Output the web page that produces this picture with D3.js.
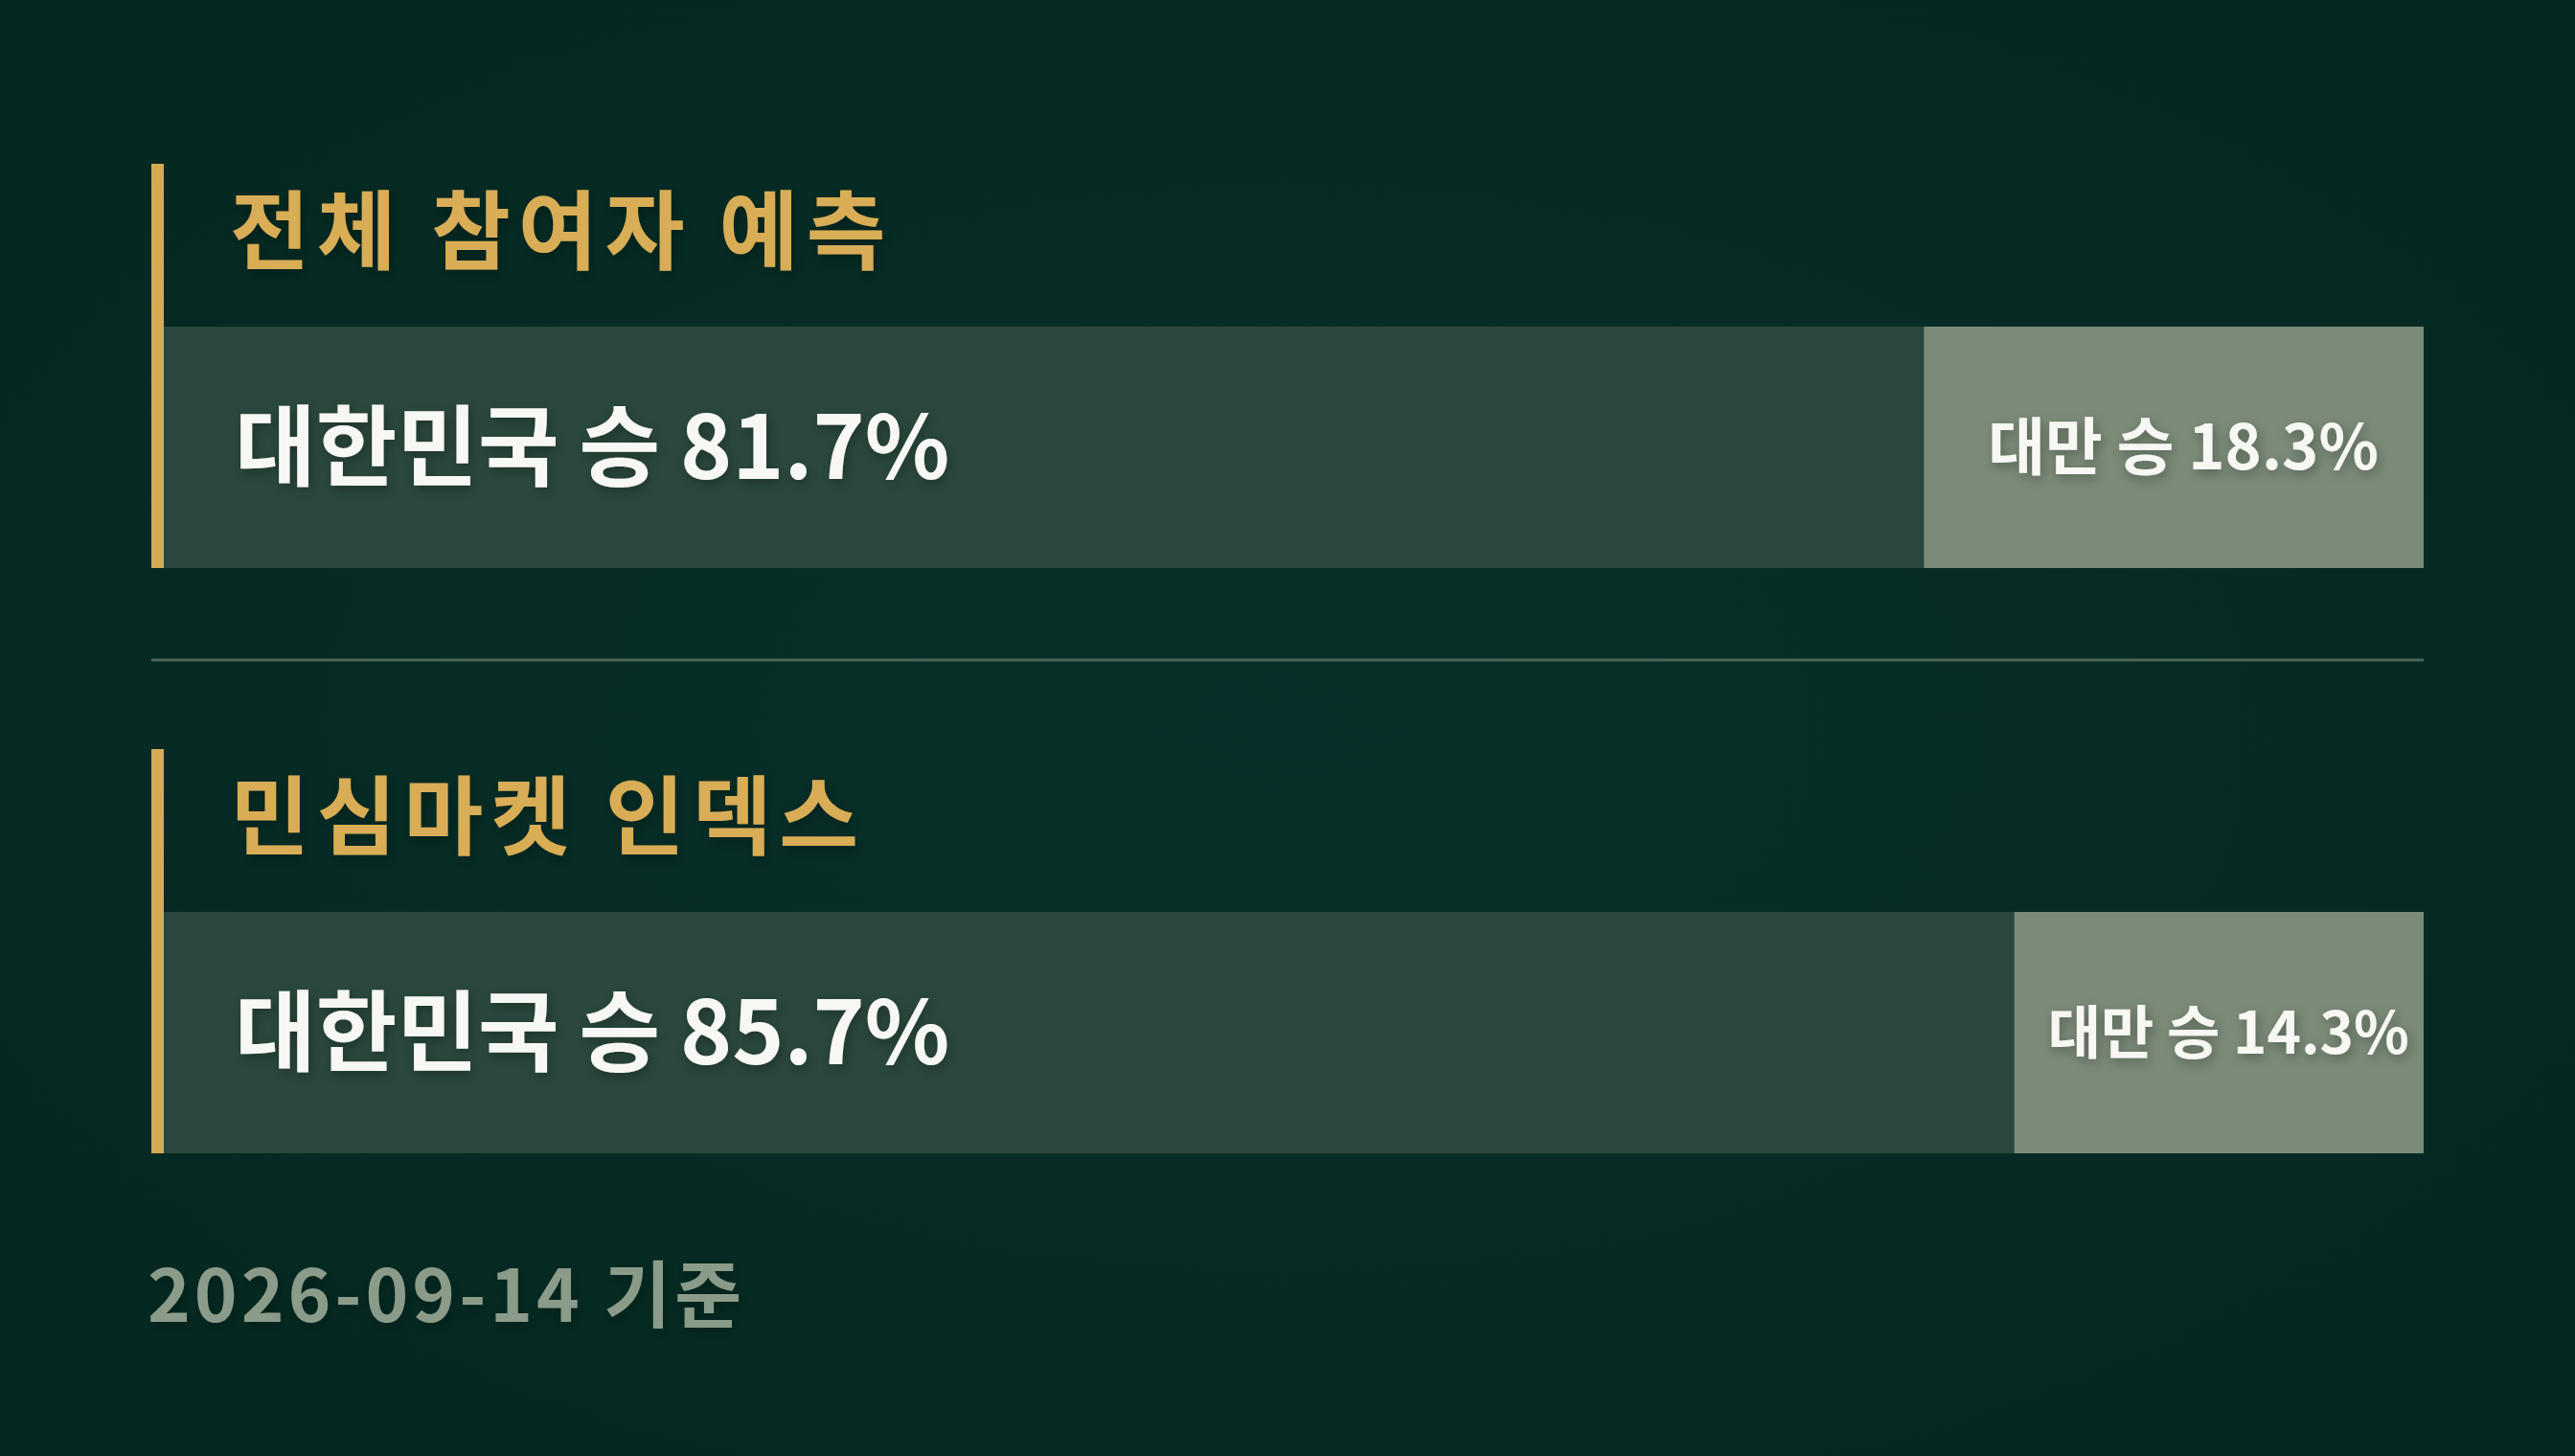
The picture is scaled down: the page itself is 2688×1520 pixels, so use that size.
<!DOCTYPE html>
<html><head><meta charset="utf-8">
<script src="https://cdn.jsdelivr.net/npm/d3@7"></script>
<style>
html,body{margin:0;padding:0;background:#06291f;}
svg{display:block;}
</style></head>
<body>
<svg id="chart" width="2688" height="1520"></svg>
<script>
// ---- data ----
const sections = ["전체 참여자 예측", "민심마켓 인덱스"];
const koreaWin = [81.7, 85.7];
const taiwanWin = [18.3, 14.3];
const koreaLabel = "대한민국 승";
const taiwanLabel = "대만 승";
const footerText = "2026-09-14 기준";

// ---- layout ----
const W = 2688, H = 1520;
const FONT = "'Noto Sans CJK KR','Noto Sans',sans-serif";
const svg = d3.select("#chart");

const defs = svg.append("defs");
const bg = defs.append("radialGradient").attr("id","bg").attr("cx","50%").attr("cy","50%").attr("r","75%");
bg.append("stop").attr("offset","0%").attr("stop-color","#08302a");
bg.append("stop").attr("offset","100%").attr("stop-color","#04271f");
const sh = defs.append("filter").attr("id","sh").attr("x","-10%").attr("y","-30%").attr("width","120%").attr("height","160%");
sh.append("feDropShadow").attr("dx",2).attr("dy",4).attr("stdDeviation",6).attr("flood-color","#000").attr("flood-opacity",0.3);

svg.append("rect").attr("width",W).attr("height",H).attr("fill","url(#bg)");

const x = d3.scaleLinear().domain([0,100]).range([171, 2530]);
const y = d3.scaleBand().domain(sections).range([171, 171 + 611*2]).paddingInner(0);
const labelPad = 90;
const accentX = 158, accentW = 13;
const barOffset = 170, barH = 252;

const g = svg.selectAll("g.sec").data(sections).join("g").attr("class","sec")
  .attr("transform", d => `translate(0,${y(d)})`);

g.append("rect").attr("x",accentX).attr("y",0).attr("width",accentW).attr("height",barOffset+barH).attr("fill","#d4aa52");

g.append("text").attr("x",240).attr("y",103).attr("fill","#d8ad56")
  .attr("font-family",FONT).attr("font-weight",700).attr("font-size",90)
  .attr("letter-spacing",8).attr("filter","url(#sh)").text(d => d);

// dark (Korea) segment
g.append("rect").attr("x",x(0)).attr("y",barOffset)
  .attr("width",(d,i)=> x(koreaWin[i]) - labelPad - x(0)).attr("height",barH).attr("fill","#2a483e");
// light (Taiwan) segment
g.append("rect").attr("x",(d,i)=> x(koreaWin[i]) - labelPad).attr("y",barOffset)
  .attr("width",(d,i)=> x(100) - (x(koreaWin[i]) - labelPad)).attr("height",barH).attr("fill","#7b8b78");

g.append("text").attr("x",245).attr("y",barOffset+barH/2).attr("dy","0.36em")
  .attr("fill","#f7f7f3").attr("font-family",FONT).attr("font-weight",700).attr("font-size",92)
  .attr("filter","url(#sh)")
  .text((d,i)=> `${koreaLabel} ${koreaWin[i]}%`);

g.each(function(d,i){
  const s0 = x(koreaWin[i]) - labelPad, s1 = x(100);
  const t = d3.select(this).append("text")
    .attr("x",(s0+s1)/2 + 10).attr("y",barOffset+barH/2).attr("dy","0.36em")
    .attr("text-anchor","middle").attr("fill","#f7f7f3")
    .attr("font-family",FONT).attr("font-weight",700).attr("font-size",65)
    .attr("filter","url(#sh)")
    .text(`${taiwanLabel} ${taiwanWin[i]}%`);
  const len = t.node().getComputedTextLength();
  const avail = (s1 - s0) - 50;
  if (len > avail) t.attr("font-size", 65*avail/len);
});

// separator
svg.append("line").attr("x1",158).attr("x2",2530).attr("y1",689).attr("y2",689)
  .attr("stroke","#4b6659").attr("stroke-width",3);

svg.append("text").attr("x",154).attr("y",1380).attr("fill","#8a9c89")
  .attr("font-family",FONT).attr("font-weight",700).attr("font-size",76)
  .attr("letter-spacing",4)
  .attr("filter","url(#sh)").text(footerText);
</script>
</body></html>
